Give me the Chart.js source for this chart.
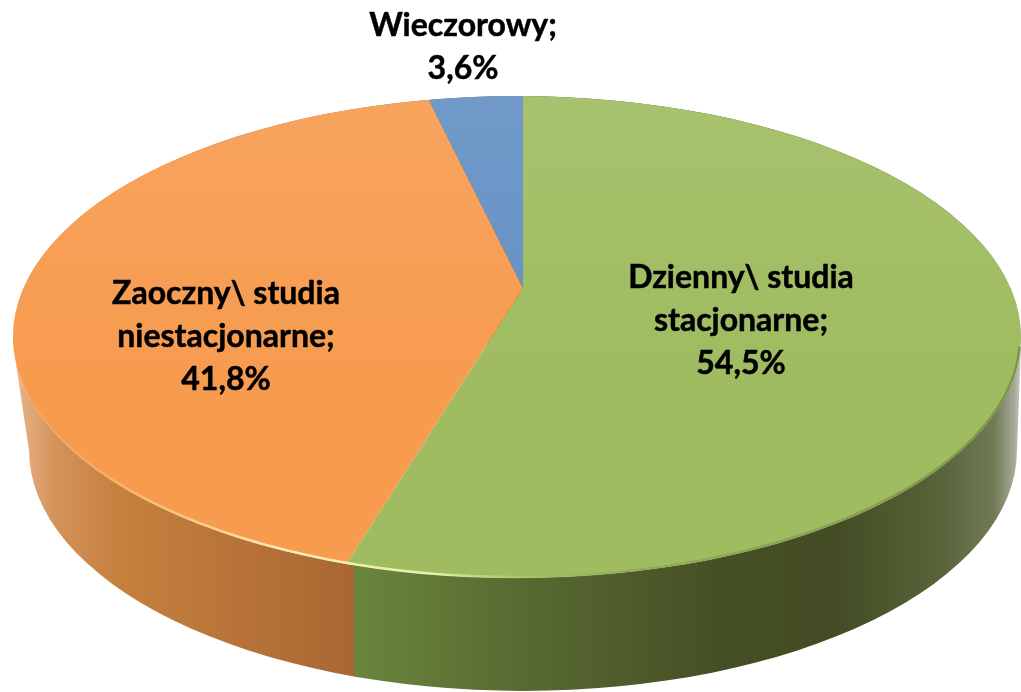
<!DOCTYPE html>
<html><head><meta charset="utf-8">
<style>html,body{margin:0;padding:0;background:#fff}#w{width:1021px;height:692px}</style>
<script src="https://cdn.jsdelivr.net/npm/chart.js@4"></script></head>
<body><div id="w"><canvas id="c" width="1021" height="692"></canvas></div>
<script>
const categories = ['Dzienny\\ studia stacjonarne', 'Zaoczny\\ studia niestacjonarne', 'Wieczorowy'];
const shares = [54.5, 41.8, 3.6];
const topColors = ['#9fbc60', '#f79b4f', '#6390c4'];
const labelBreaks = [['Dzienny\\ studia', 'stacjonarne;'], ['Zaoczny\\ studia', 'niestacjonarne;'], ['Wieczorowy;']];

// projection of the flat pie onto the tilted disc
const view = {ax: 523, ay: 288, cx: 517, cy: 337, rx: 504, ry: 241, squash: 0.46,
  bx: 523, by: 450, brx: 494, bry: 241, seam: 354};
const labelAnchors = [[741, 278], [226, 294], [463, 26]];
const lineGap = 43;

function ellipsePath(ctx, x, y, a, b) { ctx.beginPath(); ctx.ellipse(x, y, a, b, 0, 0, Math.PI * 2); }
function rimShape(ctx) {
  ctx.beginPath();
  ctx.ellipse(view.cx, view.cy, view.rx, view.ry, 0, 0, Math.PI * 2);
  ctx.moveTo(view.cx - view.rx, view.cy + 8);
  ctx.lineTo(view.bx - view.brx, view.by);
  ctx.ellipse(view.bx, view.by, view.brx, view.bry, 0, Math.PI, 0, true);
  ctx.lineTo(view.cx + view.rx, view.cy + 8);
  ctx.closePath();
}
const disc3d = {
  id: 'disc3d',
  beforeDatasetsDraw(chart) {
    const ctx = chart.ctx, W = chart.width, H = chart.height;
    ctx.save();
    rimShape(ctx); ctx.clip();
    const o = ctx.createLinearGradient(13, 0, view.seam, 0);
    o.addColorStop(0, '#f0c8a4'); o.addColorStop(0.03, '#e4ae80'); o.addColorStop(0.12, '#d4935a');
    o.addColorStop(0.3, '#c6813f'); o.addColorStop(0.65, '#b87438'); o.addColorStop(1, '#a86632');
    ctx.fillStyle = o; ctx.fillRect(0, 0, view.seam + 1, H);
    const g = ctx.createLinearGradient(view.seam, 0, 1021, 0);
    g.addColorStop(0, '#6a863c'); g.addColorStop(0.25, '#586a31'); g.addColorStop(0.55, '#454f25');
    g.addColorStop(0.72, '#434c24'); g.addColorStop(0.88, '#59643a'); g.addColorStop(0.96, '#717a56');
    g.addColorStop(0.99, '#a5aa98'); g.addColorStop(1, '#c8ccc0');
    ctx.fillStyle = g; ctx.fillRect(view.seam, 0, W - view.seam, H);
    ctx.restore();
  },
  beforeDatasetDraw(chart) {
    const ctx = chart.ctx, arc = chart.getDatasetMeta(0).data[0];
    const k = 2.2 * 346 / arc.outerRadius;
    ctx.save();
    ellipsePath(ctx, view.cx, view.cy, view.rx, view.ry); ctx.clip();
    ctx.translate(view.ax, view.ay);
    ctx.scale(k, k * view.squash);
    ctx.translate(-arc.x, -arc.y);
  },
  afterDatasetDraw(chart) {
    const ctx = chart.ctx;
    ctx.restore();
    // faint sheen on the upper part of the disc
    ctx.save();
    ellipsePath(ctx, view.cx, view.cy, view.rx, view.ry); ctx.clip();
    const sheen = ctx.createLinearGradient(0, view.cy - view.ry, 0, view.cy + 40);
    sheen.addColorStop(0, 'rgba(255,255,255,.09)');
    sheen.addColorStop(1, 'rgba(255,255,255,0)');
    ctx.fillStyle = sheen; ctx.fillRect(0, 0, 1021, 692);
    ctx.restore();
    // rim bevel of the disc edge
    ctx.save();
    ctx.beginPath(); ctx.rect(0, view.cy + 10, 1021, 400); ctx.clip();
    const s = ctx.createLinearGradient(13, 0, 1021, 0);
    s.addColorStop(0, 'rgba(247,170,100,0)');
    s.addColorStop(0.1, 'rgba(250,190,120,.6)');
    s.addColorStop(0.26, 'rgba(255,240,190,.9)');
    s.addColorStop(0.42, 'rgba(230,245,170,.95)');
    s.addColorStop(0.52, 'rgba(170,195,105,.5)');
    s.addColorStop(0.62, 'rgba(120,140,70,.35)');
    s.addColorStop(1, 'rgba(90,105,50,.5)');
    ctx.strokeStyle = s; ctx.lineWidth = 2.5;
    ellipsePath(ctx, view.cx, view.cy, view.rx - 1, view.ry - 1); ctx.stroke();
    ctx.restore();
  },
  afterDraw(chart) {
    const ctx = chart.ctx;
    ctx.save();
    ctx.fillStyle = '#000'; ctx.strokeStyle = '#000'; ctx.lineWidth = 0.5;
    ctx.font = 'bold 32px Lato, sans-serif';
    ctx.textAlign = 'center'; ctx.textBaseline = 'middle';
    labelBreaks.forEach((lines, i) => {
      const [x, y] = labelAnchors[i];
      const all = lines.concat(shares[i].toFixed(1).replace('.', ',') + '%');
      all.forEach((t, j) => { ctx.fillText(t, x, y + j * lineGap); ctx.strokeText(t, x, y + j * lineGap); });
    });
    ctx.restore();
  }
};
new Chart(document.getElementById('c'), {
  type: 'pie',
  data: {labels: categories, datasets: [{data: shares, backgroundColor: topColors, borderWidth: 0, clip: false}]},
  options: {
    responsive: false, animation: false, events: [],
    rotation: 0,
    layout: {padding: 0},
    plugins: {legend: {display: false}, tooltip: {enabled: false}, title: {display: false}}
  },
  plugins: [disc3d]
});
</script></body></html>
